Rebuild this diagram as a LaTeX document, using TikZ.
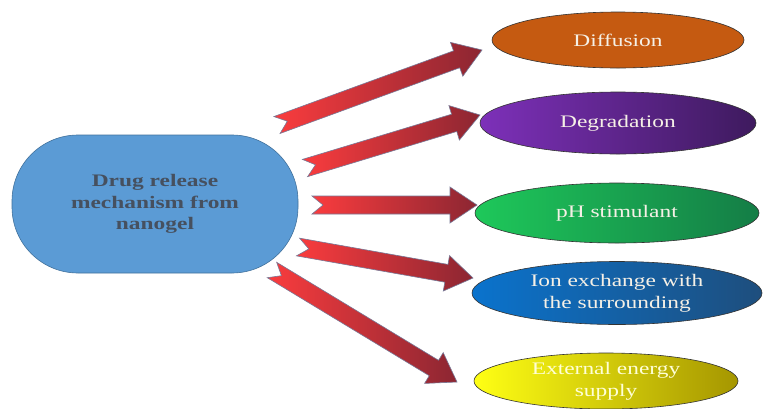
\documentclass[tikz,border=0pt]{standalone}
\usepackage{fontspec}
\setmainfont{Liberation Serif}[FakeStretch=1.33]
\usetikzlibrary{shapes.geometric,calc}
\definecolor{cblue}{RGB}{91,155,213}
\definecolor{cblueb}{RGB}{65,113,156}
\definecolor{ctext}{RGB}{70,80,95}
\definecolor{arrL}{RGB}{250,60,62}
\definecolor{arrR}{RGB}{140,38,50}
\definecolor{arrB}{RGB}{120,120,150}
\definecolor{orng}{RGB}{197,90,17}
\definecolor{purL}{RGB}{125,48,185}
\definecolor{purR}{RGB}{62,26,94}
\definecolor{grnL}{RGB}{30,200,90}
\definecolor{grnR}{RGB}{20,125,70}
\definecolor{bluL}{RGB}{10,115,205}
\definecolor{bluR}{RGB}{30,78,125}
\definecolor{yelL}{RGB}{255,255,20}
\definecolor{yelR}{RGB}{165,150,0}
\definecolor{ltxt}{RGB}{245,240,230}
\definecolor{ytxt}{RGB}{255,255,215}
\newcommand\blockarr[2]{%
  \path coordinate (q) at ($(#2)!27pt!(#1)$);
  \draw[barrow] ($(#1)!9pt!90:(#2)$) -- ($(q)!9pt!90:(#2)$) -- ($(q)!18pt!90:(#2)$)
    -- (#2) -- ($(q)!18pt!-90:(#2)$) -- ($(q)!9pt!-90:(#2)$)
    -- ($(#1)!9pt!-90:(#2)$) -- ($(#1)!11pt!(#2)$) -- cycle;}
\begin{document}
\begin{tikzpicture}[x=1pt,y=-1pt,
  barrow/.style={draw=arrB,line width=0.6pt,left color=arrL,right color=arrR},
  oval/.style={ellipse,draw=black!80,line width=0.6pt,inner sep=0pt,align=center,
    font=\fontsize{17.6}{22}\selectfont},
  mainbox/.style={rectangle,rounded corners=66pt,draw=cblueb,fill=cblue,line width=0.6pt,
    minimum width=286pt,minimum height=138pt,align=center,text=ctext,
    font=\fontsize{17.6}{21.5}\selectfont\bfseries}]
\useasboundingbox (0,0) rectangle (764,408);
\fill[white] (0,0) rectangle (764,408);
\node[mainbox] (main) at (155,204) {Drug release\\mechanism from\\nanogel};
\node[oval,fill=orng,text=ltxt,minimum width=252pt,minimum height=56pt] (dif) at (618,40) {Diffusion};
\node[oval,left color=purL,right color=purR,text=ltxt,minimum width=276pt,minimum height=62pt] (deg) at (618,123) {Degradation};
\node[oval,left color=grnL,right color=grnR,text=ltxt,minimum width=284pt,minimum height=60pt] (ph) at (617,213) {pH stimulant};
\node[oval,left color=bluL,right color=bluR,text=ltxt,minimum width=290pt,minimum height=63pt] (ion) at (617,293) {Ion exchange with\\the surrounding};
\node[oval,left color=yelL,right color=yelR,text=ytxt,minimum width=264pt,minimum height=56pt] (ext) at (606,381) {External energy\\supply};
\coordinate (s1) at (277,125); \coordinate (e1) at (482,50);
\coordinate (s2) at (305,168); \coordinate (e2) at (480,115);
\coordinate (s3) at (312,205); \coordinate (e3) at (477,205);
\coordinate (s4) at (298,247); \coordinate (e4) at (473,278);
\coordinate (s5) at (272,270); \coordinate (e5) at (457,382);
\blockarr{s1}{e1}
\blockarr{s2}{e2}
\blockarr{s3}{e3}
\blockarr{s4}{e4}
\blockarr{s5}{e5}
\end{tikzpicture}
\end{document}
